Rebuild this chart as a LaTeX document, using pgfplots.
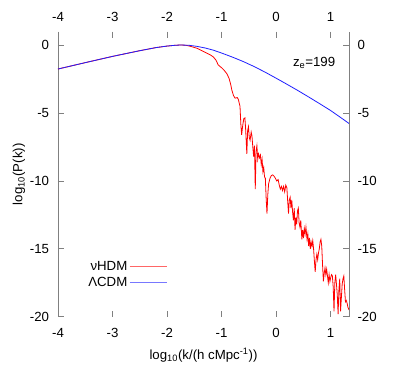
\documentclass[border=0pt]{standalone}
\usepackage{fontspec}
\setmainfont{Liberation Sans}
\usepackage{pgfplots}
\pgfplotsset{compat=1.18}

\definecolor{axgray}{RGB}{128,128,128}
\definecolor{pkred}{RGB}{255,0,0}
\definecolor{pkblue}{RGB}{30,30,255}

\pgfplotsset{
  base/.style={
    scale only axis, width=291bp, height=285bp,
    xmin=-4, xmax=1.34, ymin=-20, ymax=1,
    xtick={-4,-3,...,1}, ytick={-20,-15,...,0},
    /pgf/number format/assume math mode=true,
    tick label style={font=\fontsize{13.3}{15}\selectfont, inner sep=0pt},
  },
}

\begin{document}
\fontsize{13.3}{15}\selectfont
\begin{tikzpicture}
\begin{axis}[
  base, name=main,
  separate axis lines,
  x axis line style={draw=none},
  y axis line style={axgray, line width=0.8bp},
  tick align=inside, major tick length=6bp,
  tick style={axgray, line width=0.7bp},
  xticklabel style={yshift=-11.8bp},
  yticklabel style={xshift=-8.7bp},
  xlabel={log\textsubscript{10}(k/(h cMpc\textsuperscript{-1}))},
  ylabel={log\textsubscript{10}(P(k))},
  x label style={at={(axis description cs:0.5,-0.150)}, anchor=base},
  y label style={at={(axis description cs:-0.134,0.5)}, anchor=center},
  legend style={draw=none, fill=none, inner sep=0pt, row sep=1bp,
    at={(axis description cs:0.375,0.203)}, anchor=north east,
    font=\fontsize{13.3}{15}\selectfont},
  legend cell align=right,
  legend plot pos=right,
  legend image code/.code={\draw[#1, line width=0.6bp, opacity=0.6] (0bp,0bp) -- (37bp,0bp);},
]
% nuHDM
\addplot[pkred, line width=0.8bp] coordinates {
(-4,-1.75)(-3.5,-1.28)(-3,-0.82)(-2.5,-0.4)(-2.2,-0.17)(-2,-0.06)(-1.85,0.0)(-1.75,0.02)
(-1.65,0.0)(-1.55,-0.1)(-1.45,-0.22)(-1.4,-0.32)(-1.3,-0.52)(-1.2,-0.72)(-1.15,-0.86)
(-1.1,-1.1)(-1.06,-1.45)(-1.0,-1.65)(-0.95,-1.85)(-0.9,-2.1)(-0.86,-2.45)(-0.83,-2.9)
(-0.81,-3.3)(-0.78,-3.7)(-0.75,-3.9)(-0.71,-3.85)(-0.69,-4.0)(-0.66,-4.5)(-0.645,-5.8)
(-0.63,-6.6)(-0.61,-5.9)(-0.59,-5.4)(-0.57,-5.35)(-0.555,-6.3)(-0.535,-8.0)(-0.52,-6.3)
(-0.505,-6.0)(-0.49,-6.8)(-0.475,-7.0)(-0.455,-6.4)(-0.44,-6.7)(-0.425,-7.5)(-0.41,-8.2)
(-0.395,-7.4)(-0.38,-10.6)(-0.365,-7.8)(-0.35,-7.4)(-0.335,-8.4)(-0.32,-8.0)(-0.3,-8.3)
(-0.285,-8.1)(-0.27,-8.8)(-0.255,-8.4)(-0.24,-9.3)(-0.225,-9.0)(-0.21,-9.7)(-0.195,-9.8)
(-0.18,-11.3)(-0.165,-12.4)(-0.15,-11.0)(-0.135,-10.2)(-0.11,-9.8)(-0.085,-9.6)(-0.06,-9.55)
(-0.035,-9.65)(-0.01,-9.8)(0.015,-10.0)(0.04,-9.9)(0.06,-10.3)(0.08,-10.6)(0.1,-10.4)
(0.12,-10.7)(0.14,-10.4)(0.16,-10.8)(0.18,-10.3)(0.2,-10.5)(0.215,-11.5)(0.23,-12.4)
(0.245,-11.4)(0.26,-11.2)(0.275,-12.0)(0.29,-11.4)(0.305,-12.3)(0.32,-12.9)(0.335,-12.0)
(0.35,-13.6)(0.365,-12.7)(0.38,-13.2)(0.395,-12.2)(0.41,-12.0)(0.425,-13.1)(0.44,-13.4)
(0.455,-12.9)(0.475,-14.3)(0.49,-13.6)(0.505,-14.2)(0.52,-13.5)(0.535,-13.9)(0.55,-13.4)
(0.57,-14.3)(0.585,-13.9)(0.6,-14.8)(0.615,-14.2)(0.63,-15.0)(0.645,-14.5)(0.66,-14.8)
(0.675,-14.4)(0.69,-15.0)(0.705,-15.9)(0.72,-16.7)(0.735,-15.8)(0.75,-15.4)(0.765,-15.8)
(0.78,-15.3)(0.795,-15.0)(0.81,-14.5)(0.825,-14.3)(0.84,-14.8)(0.855,-16.2)(0.87,-17.4)
(0.885,-16.8)(0.9,-16.4)(0.915,-16.9)(0.93,-16.5)(0.945,-17.0)(0.96,-17.5)(0.975,-16.9)
(0.99,-17.4)(1.005,-17.1)(1.02,-16.9)(1.035,-17.0)(1.05,-17.8)(1.065,-19.6)(1.08,-17.5)
(1.095,-16.9)(1.11,-17.6)(1.125,-18.4)(1.14,-19.8)(1.155,-18.0)(1.17,-17.2)(1.185,-19.6)
(1.2,-18.6)(1.215,-17.6)(1.23,-17.2)(1.245,-17.0)(1.26,-18.0)(1.275,-18.9)(1.29,-18.8)
(1.305,-19.0)(1.32,-19.3)(1.34,-19.5)
};
\addlegendentry{νHDM}
% LambdaCDM
\addplot[pkblue, line width=0.8bp] coordinates {
(-4,-1.75)(-3.5,-1.28)(-3,-0.82)(-2.5,-0.4)(-2.2,-0.17)(-2,-0.06)(-1.85,0.0)(-1.75,0.02)
(-1.6,0.0)(-1.45,-0.08)(-1.3,-0.2)(-1.15,-0.36)(-1.0,-0.57)(-0.8,-0.87)(-0.6,-1.2)
(-0.4,-1.57)(-0.2,-1.98)(0,-2.42)(0.2,-2.87)(0.4,-3.33)(0.6,-3.81)(0.8,-4.3)(1.0,-4.8)
(1.2,-5.36)(1.34,-5.76)
};
\addlegendentry{ΛCDM}
\node[anchor=base east, inner sep=0pt] at (axis cs:1.09,-1.55) {z\textsubscript{e}=199};
\end{axis}
\begin{axis}[
  base,
  axis line style={draw=none},
  major tick length=0pt,
  xtick pos=right, ytick pos=right,
  xticklabel pos=right, yticklabel pos=right,
  xticklabel style={yshift=10.2bp},
  yticklabel style={xshift=8.3bp},
]
\end{axis}
\pgfresetboundingbox
\path ([xshift=-58bp,yshift=-65.3bp]main.south west) rectangle ([xshift=62bp,yshift=31.7bp]main.north east);
\end{tikzpicture}
\end{document}
